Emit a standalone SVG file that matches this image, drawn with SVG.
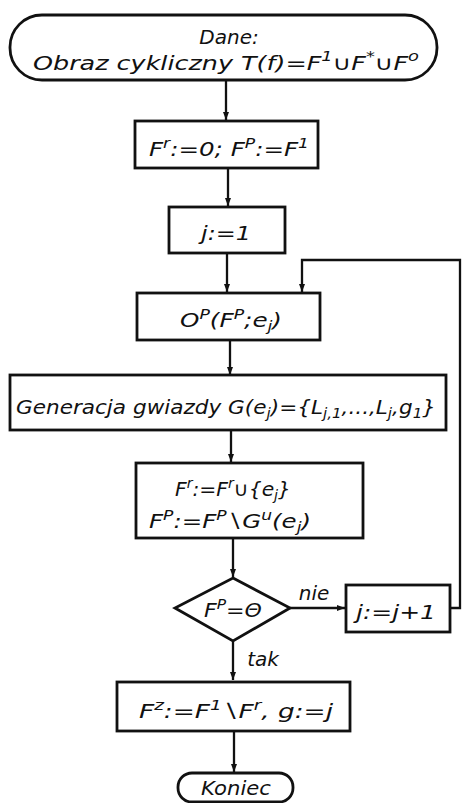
<svg xmlns="http://www.w3.org/2000/svg" width="463" height="803" viewBox="0 0 463 803">
<defs>
<marker id="ah" viewBox="0 0 8 14" refX="8" refY="7" markerWidth="8" markerHeight="14" markerUnits="userSpaceOnUse" orient="auto">
<path d="M0,4 L8,7 L0,10 Z" fill="#111"/>
</marker>
<style>
.shape{fill:#fff;stroke:#111;stroke-width:2.8}
.conn{fill:none;stroke:#111;stroke-width:2.3}
text{font-family:"DejaVu Sans","Liberation Sans",sans-serif;font-style:italic;font-size:20px;fill:#111;text-anchor:middle}
.sm{font-size:14px}
</style>
</defs>
<rect width="463" height="803" fill="#fff"/>
<g id="connectors">
<path class="conn" d="M226,80 V120" marker-end="url(#ah)"/>
<path class="conn" d="M228,168 V206" marker-end="url(#ah)"/>
<path class="conn" d="M227,253 V292" marker-end="url(#ah)"/>
<path class="conn" d="M230,340 V375" marker-end="url(#ah)"/>
<path class="conn" d="M231,430 V462" marker-end="url(#ah)"/>
<path class="conn" d="M233,538 V577" marker-end="url(#ah)"/>
<path class="conn" d="M290,608 H345" marker-end="url(#ah)"/>
<path class="conn" d="M450,608 H460 V260 H302 V292" marker-end="url(#ah)"/>
<path class="conn" d="M233,641 V680" marker-end="url(#ah)"/>
<path class="conn" d="M234,731 V772" marker-end="url(#ah)"/>
<text x="314" y="600" font-size="18">nie</text>
<text x="263" y="666" font-size="18">tak</text>
</g>
<g id="start">
<rect class="shape" x="10" y="15" width="427" height="65" rx="32" ry="32"/>
<text x="229" y="44" font-size="21">Dane:</text>
<text x="226" y="70" font-size="22" textLength="386" lengthAdjust="spacingAndGlyphs">Obraz cykliczny T(f)=F<tspan class="sm" font-size="15" dy="-9">1</tspan><tspan dy="9">∪F</tspan><tspan class="sm" font-size="15" dy="-9">*</tspan><tspan dy="9">∪F</tspan><tspan class="sm" font-size="15" dy="-9">o</tspan></text>
</g>
<g id="init">
<rect class="shape" x="135" y="121" width="183" height="47"/>
<text x="229" y="156" textLength="160" lengthAdjust="spacingAndGlyphs">F<tspan class="sm" dy="-8">r</tspan><tspan dy="8">:=0; F</tspan><tspan class="sm" dy="-8">P</tspan><tspan dy="8">:=F</tspan><tspan class="sm" dy="-8">1</tspan></text>
</g>
<g id="jinit">
<rect class="shape" x="169" y="207" width="116" height="46"/>
<text x="226" y="240" textLength="50" lengthAdjust="spacingAndGlyphs">j:=1</text>
</g>
<g id="op">
<rect class="shape" x="137" y="293" width="183" height="47"/>
<text x="231" y="327" textLength="102" lengthAdjust="spacingAndGlyphs">O<tspan class="sm" dy="-8">P</tspan><tspan dy="8">(F</tspan><tspan class="sm" dy="-8">P</tspan><tspan dy="8">;e</tspan><tspan class="sm" dy="4">j</tspan><tspan dy="-4">)</tspan></text>
</g>
<g id="gen">
<rect class="shape" x="10" y="375" width="436" height="55"/>
<text x="226" y="414" textLength="420" lengthAdjust="spacingAndGlyphs">Generacja gwiazdy G(e<tspan class="sm" dy="4">j</tspan><tspan dy="-4">)={L</tspan><tspan class="sm" dy="4">j,1</tspan><tspan dy="-4">,...,L</tspan><tspan class="sm" dy="4">j</tspan><tspan dy="-4">,g</tspan><tspan class="sm" dy="4">1</tspan><tspan dy="-4">}</tspan></text>
</g>
<g id="update">
<rect class="shape" x="136" y="463" width="227" height="75"/>
<text x="233" y="496" textLength="116" lengthAdjust="spacingAndGlyphs">F<tspan class="sm" dy="-8">r</tspan><tspan dy="8">:=F</tspan><tspan class="sm" dy="-8">r</tspan><tspan dy="8">∪{e</tspan><tspan class="sm" dy="4">j</tspan><tspan dy="-4">}</tspan></text>
<text x="230" y="528" textLength="162" lengthAdjust="spacingAndGlyphs">F<tspan class="sm" dy="-8">P</tspan><tspan dy="8">:=F</tspan><tspan class="sm" dy="-8">P</tspan><tspan dy="8">∖G</tspan><tspan class="sm" dy="-8">u</tspan><tspan dy="8">(e</tspan><tspan class="sm" dy="4">j</tspan><tspan dy="-4">)</tspan></text>
</g>
<g id="decision">
<polygon class="shape" points="233,578 290,608 233,641 175,608"/>
<text x="233" y="617" textLength="58" lengthAdjust="spacingAndGlyphs">F<tspan class="sm" dy="-8">P</tspan><tspan dy="8">=Θ</tspan></text>
</g>
<g id="jinc">
<rect class="shape" x="346" y="585" width="104" height="47"/>
<text x="396" y="619" textLength="80" lengthAdjust="spacingAndGlyphs">j:=j+1</text>
</g>
<g id="final">
<rect class="shape" x="117" y="682" width="233" height="49"/>
<text x="236" y="718" textLength="194" lengthAdjust="spacingAndGlyphs">F<tspan class="sm" dy="-8">z</tspan><tspan dy="8">:=F</tspan><tspan class="sm" dy="-8">1</tspan><tspan dy="8">∖F</tspan><tspan class="sm" dy="-8">r</tspan><tspan dy="8">, g:=j</tspan></text>
</g>
<g id="end">
<rect class="shape" x="178" y="773" width="115" height="29" rx="14" ry="14"/>
<text x="236" y="795" font-size="18" textLength="70" lengthAdjust="spacingAndGlyphs">Koniec</text>
</g>
</svg>
